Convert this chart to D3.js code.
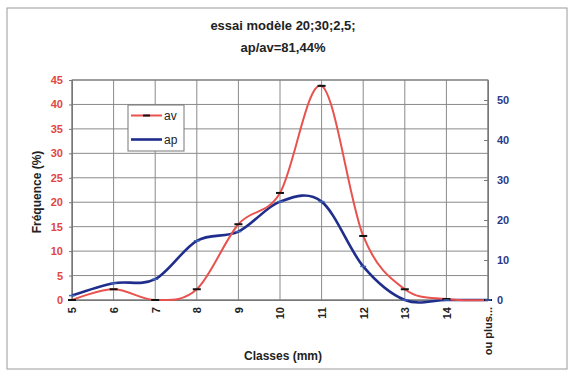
<!DOCTYPE html>
<html><head><meta charset="utf-8">
<script src="https://cdn.jsdelivr.net/npm/d3@7"></script>
<style>body{margin:0;background:#fff;} svg{display:block;font-family:"Liberation Sans",Arial,sans-serif;}</style>
</head><body>
<svg id="c" width="575" height="374"></svg>
<script>
const categories = ["5","6","7","8","9","10","11","12","13","14","ou plus..."];
const avValues = [0, 2.2, 0, 2.2, 15.5, 21.9, 43.8, 13.1, 2.2, 0.2, 0];
const apValues = [1.1, 4.2, 5.2, 14.8, 17.1, 24.6, 24.6, 8.4, 0, 0, 0];
const leftTicks = [0,5,10,15,20,25,30,35,40,45];
const rightTicks = [0,10,20,30,40,50];
const titleLines = ["essai modèle 20;30;2,5;", "ap/av=81,44%"];

const svg = d3.select("#c");
const L = 72, R = 488, T = 80, B = 300;
const x = d3.scalePoint().domain(categories).range([L, R]);
const yL = d3.scaleLinear().domain([0,45]).range([B, T]);
const yR = d3.scaleLinear().domain([0,55]).range([B, T]);

// outer border
svg.append("rect").attr("x",7).attr("y",8).attr("width",560).attr("height",361)
  .attr("fill","none").attr("stroke","#9a9a9a").attr("stroke-width",1);

// gridlines
const g = svg.append("g");
g.selectAll(".hg").data(leftTicks).join("line")
  .attr("x1",L).attr("x2",R).attr("y1",d=>yL(d)).attr("y2",d=>yL(d))
  .attr("stroke","#8a8a8a").attr("stroke-width",1);
g.selectAll(".vg").data(categories).join("line")
  .attr("x1",d=>x(d)).attr("x2",d=>x(d)).attr("y1",T).attr("y2",B)
  .attr("stroke","#8a8a8a").attr("stroke-width",1);
svg.append("rect").attr("x",L).attr("y",T).attr("width",R-L).attr("height",B-T)
  .attr("fill","none").attr("stroke","#777").attr("stroke-width",1);

// left axis
const la = svg.append("g").attr("transform",`translate(${L},0)`)
  .call(d3.axisLeft(yL).tickValues(leftTicks).tickSize(3).tickPadding(6));
la.select(".domain").attr("stroke","#777");
la.selectAll("line").attr("stroke","#777");
la.selectAll("text").attr("fill","#e0473f").attr("font-size",11).attr("font-weight","bold");

// right axis
const ra = svg.append("g").attr("transform",`translate(${R},0)`)
  .call(d3.axisRight(yR).tickValues(rightTicks).tickSizeInner(-4).tickSizeOuter(0).tickPadding(9));
ra.select(".domain").attr("stroke","#777");
ra.selectAll("line").attr("stroke","#777");
ra.selectAll("text").attr("fill","#2b3a86").attr("font-size",11).attr("font-weight","bold");

// bottom axis
const ba = svg.append("g").attr("transform",`translate(0,${B})`)
  .call(d3.axisBottom(x).tickSize(0).tickPadding(0));
ba.select(".domain").attr("stroke","#777");
ba.selectAll("text")
  .attr("transform","rotate(-90)")
  .attr("text-anchor","end").attr("dy","0.35em").attr("x",-7).attr("y",0)
  .attr("fill","#222").attr("font-size",11).attr("font-weight","bold");

// lines
const curve = d3.curveCardinal.tension(0);
const lineAv = d3.line().x((d,i)=>x(categories[i])).y(d=>yL(d)).curve(curve);
const lineAp = d3.line().x((d,i)=>x(categories[i])).y(d=>yR(d)).curve(curve);
svg.append("path").attr("d",lineAp(apValues)).attr("fill","none")
  .attr("stroke","#1f2e8c").attr("stroke-width",2.6);
svg.append("path").attr("d",lineAv(avValues)).attr("fill","none")
  .attr("stroke","#e8534f").attr("stroke-width",2);
svg.selectAll(".mav").data(avValues).join("line")
  .attr("x1",(d,i)=>x(categories[i])-4).attr("x2",(d,i)=>x(categories[i])+4)
  .attr("y1",d=>yL(d)).attr("y2",d=>yL(d)).attr("stroke","#111").attr("stroke-width",2);
svg.selectAll(".map").data(apValues).join("line")
  .attr("x1",(d,i)=>x(categories[i])-3).attr("x2",(d,i)=>x(categories[i])+3)
  .attr("y1",d=>yR(d)).attr("y2",d=>yR(d)).attr("stroke","#3f63b8").attr("stroke-width",1.5);

// legend
const lg = svg.append("g");
lg.append("rect").attr("x",128).attr("y",105).attr("width",56).attr("height",46)
  .attr("fill","#fff").attr("stroke","#777");
lg.append("line").attr("x1",131).attr("x2",162).attr("y1",115.5).attr("y2",115.5).attr("stroke","#e8534f").attr("stroke-width",2);
lg.append("line").attr("x1",143).attr("x2",150).attr("y1",115.5).attr("y2",115.5).attr("stroke","#111").attr("stroke-width",2);
lg.append("line").attr("x1",131).attr("x2",162).attr("y1",139.5).attr("y2",139.5).attr("stroke","#1f2e8c").attr("stroke-width",2.6);
lg.append("text").attr("x",164).attr("y",119.5).text("av").attr("font-size",12).attr("fill","#222");
lg.append("text").attr("x",164).attr("y",143.5).text("ap").attr("font-size",12).attr("fill","#222");

// titles
svg.selectAll(".tt").data(titleLines).join("text")
  .attr("x",283).attr("y",(d,i)=>30+i*22).attr("text-anchor","middle")
  .attr("font-size",13).attr("font-weight","bold").attr("fill","#222").text(d=>d);
svg.append("text").attr("x",283).attr("y",360).attr("text-anchor","middle")
  .attr("font-size",12).attr("font-weight","bold").attr("fill","#222").text("Classes (mm)");
svg.append("text").attr("transform","translate(41,192) rotate(-90)").attr("text-anchor","middle")
  .attr("font-size",12).attr("font-weight","bold").attr("fill","#222").text("Fréquence (%)");
</script>
</body></html>
